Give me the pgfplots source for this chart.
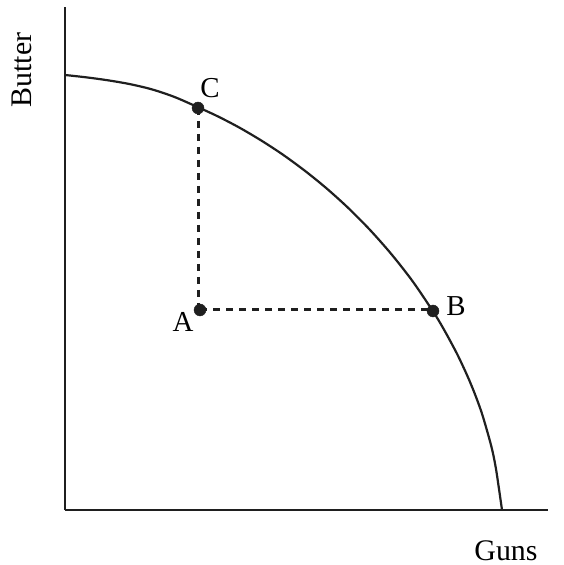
\documentclass[border=0pt]{standalone}
\usepackage{fontspec}
\setmainfont{Liberation Serif}
\usepackage{pgfplots}
\pgfplotsset{compat=1.18}
\begin{document}
\begin{tikzpicture}
\begin{axis}[
 x=1bp, y=1bp,
 xmin=0, xmax=483, ymin=0, ymax=503,
 axis lines=left,
 axis line style={line width=2.8bp, -, color=black!88},
 xtick=\empty, ytick=\empty,
 clip=false,
 scale only axis,
]
\path (axis cs:-65,-55) rectangle (axis cs:499,510);
% frontier
\addplot[smooth, line width=2.2bp, color=black!88] coordinates {
(0,435) (21.75,432.6) (43.5,429.6) (65.25,425.8) (87,420.6) (108.75,413.3) (130.5,403.9) (152.25,393.9) (174,382.6) (195.75,369.8) (217.5,355.6) (239.25,339.7) (261,322.1) (282.75,302.5) (304.5,280.6) (326.25,256) (348,228.2) (369.75,195.9) (380.6,177.5) (391.5,157.2) (398,143.7) (404.55,129.1) (411.1,112.8) (417.6,94.4) (426.3,63.8) (430.65,43) (434,21) (437,0)};
% dashed guides
\addplot[line width=3bp, dash pattern=on 7bp off 6bp, color=black!88] coordinates {(133,402) (133,200)};
\addplot[line width=3bp, dash pattern=on 7bp off 6bp, color=black!88] coordinates {(135,200) (368,200)};
% points
\addplot[only marks, mark=*, mark size=6bp, color=black!88] coordinates {(133,402) (135,200) (368,199)};
% labels
\node[font=\fontsize{29}{30}\selectfont] at (axis cs:145,422) {C};
\node[font=\fontsize{29}{30}\selectfont] at (axis cs:118,188) {A};
\node[font=\fontsize{29}{30}\selectfont] at (axis cs:391,204) {B};
\node[font=\fontsize{30}{32}\selectfont, rotate=90] at (axis cs:-43,440) {Butter};
\node[font=\fontsize{30}{32}\selectfont, anchor=base, inner sep=0pt] at (axis cs:441,-50) {Guns};
\end{axis}
\end{tikzpicture}
\end{document}
